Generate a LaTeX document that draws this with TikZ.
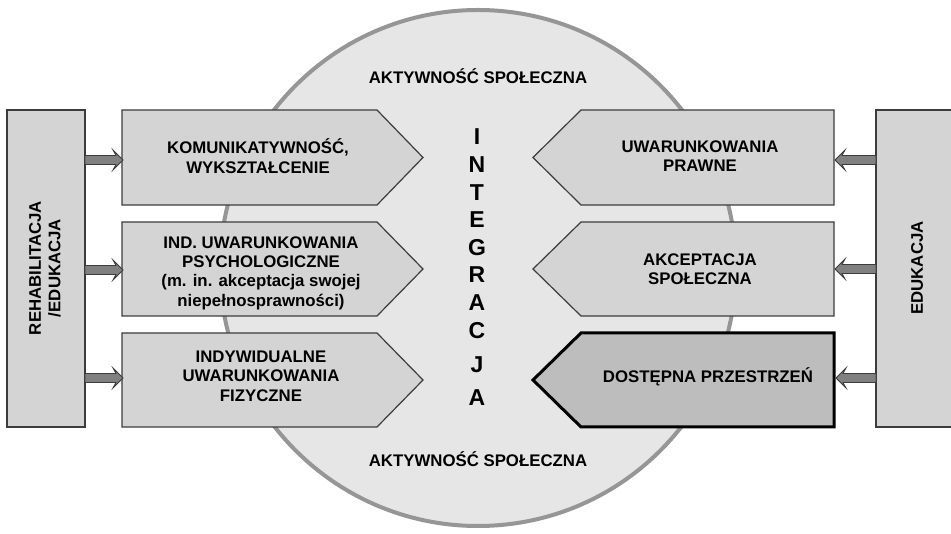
\documentclass[tikz,border=0pt]{standalone}
\usepackage{fontspec}
\setmainfont{Liberation Sans}
\usetikzlibrary{calc}
\definecolor{boxfill}{HTML}{D4D4D4}
\definecolor{boxline}{HTML}{3C3C3C}
\definecolor{circfill}{HTML}{E6E6E6}
\definecolor{circline}{HTML}{969696}
\definecolor{darkfill}{HTML}{BDBDBD}
\definecolor{arrfill}{HTML}{808080}
\newcommand{\BlkArrow}[3]{%
  \draw[blkarrow] ($(#1)+(0,4.5)$) -- ($(#2)+(#3*7,4.5)$) -- ($(#2)+(#3*10,10)$) -- (#2)
    -- ($(#2)+(#3*10,-10)$) -- ($(#2)+(#3*7,-4.5)$) -- ($(#1)+(0,-4.5)$) -- cycle;}
\begin{document}
\begin{tikzpicture}[x=1pt,y=-1pt,
  boxstyle/.style={draw=boxline,fill=boxfill,line width=1.2pt,line join=miter},
  darkbox/.style={draw=black,fill=darkfill,line width=3pt,line join=miter},
  blkarrow/.style={draw=boxline,fill=arrfill,line width=0.8pt,line join=miter},
  lbl/.style={align=center,inner sep=0pt,font=\fontsize{16.8}{19.4}\selectfont\bfseries},
  letter/.style={inner sep=0pt,font=\fontsize{23}{23}\selectfont\bfseries}]
\useasboundingbox (0,0) rectangle (951,534);
\fill[white] (0,0) rectangle (951,534);
% circle
\draw[draw=circline,fill=circfill,line width=4pt] (478,268) circle (258);
\node[lbl] (act1) at (478,76) {AKTYWNOŚĆ SPOŁECZNA};
\node[lbl] (act2) at (478,459) {AKTYWNOŚĆ SPOŁECZNA};
% side boxes
\draw[boxstyle] (7,110) rectangle (85,427);
\draw[boxstyle] (876,110) rectangle (960,427);
\node[lbl,rotate=90] (rehab) at (45,268) {REHABILITACJA\\/EDUKACJA};
\node[lbl,rotate=90] (edu) at (917,268) {EDUKACJA};
% left pentagons
\draw[boxstyle] (122,110) -- (377,110) -- (423,157.5) -- (377,205) -- (122,205) -- cycle;
\draw[boxstyle] (122,222) -- (377,222) -- (423,269) -- (377,316) -- (122,316) -- cycle;
\draw[boxstyle] (122,333) -- (377,333) -- (423,380) -- (377,427) -- (122,427) -- cycle;
% right pentagons
\draw[boxstyle] (834,110) -- (581,110) -- (533,157.5) -- (581,205) -- (834,205) -- cycle;
\draw[boxstyle] (834,222) -- (581,222) -- (533,269) -- (581,316) -- (834,316) -- cycle;
\draw[darkbox] (834,333) -- (581,333) -- (533,380) -- (581,427) -- (834,427) -- cycle;
% labels
\node[lbl] (l1) at (258,156) {KOMUNIKATYWNOŚĆ,\\WYKSZTAŁCENIE};
\node[lbl] (l2) at (261,273) {IND. UWARUNKOWANIA\\PSYCHOLOGICZNE\\(m. in. akceptacja swojej\\niepełnosprawności)};
\node[lbl] (l3) at (261,376) {INDYWIDUALNE\\UWARUNKOWANIA\\FIZYCZNE};
\node[lbl] (r1) at (700,156) {UWARUNKOWANIA\\PRAWNE};
\node[lbl] (r2) at (700,269) {AKCEPTACJA\\SPOŁECZNA};
\node[lbl] (r3) at (708,377) {DOSTĘPNA PRZESTRZEŃ};
% INTEGRACJA
\node[letter] (i1) at (477,137) {I};
\node[letter] (i2) at (477,165) {N};
\node[letter] (i3) at (477,193) {T};
\node[letter] (i4) at (477,220) {E};
\node[letter] (i5) at (477,248) {G};
\node[letter] (i6) at (477,275) {R};
\node[letter] (i7) at (477,303) {A};
\node[letter] (i8) at (477,331) {C};
\node[letter] (i9) at (477,365) {J};
\node[letter] (i10) at (477,398) {A};
% arrow endpoints
\coordinate (la1) at (85,160);  \coordinate (lb1) at (123,160);
\coordinate (la2) at (85,270);  \coordinate (lb2) at (123,270);
\coordinate (la3) at (85,378);  \coordinate (lb3) at (123,378);
\coordinate (ra1) at (876,160); \coordinate (rb1) at (835,160);
\coordinate (ra2) at (876,269); \coordinate (rb2) at (835,269);
\coordinate (ra3) at (876,378); \coordinate (rb3) at (836,378);
\BlkArrow{la1}{lb1}{-1}
\BlkArrow{la2}{lb2}{-1}
\BlkArrow{la3}{lb3}{-1}
\BlkArrow{ra1}{rb1}{1}
\BlkArrow{ra2}{rb2}{1}
\BlkArrow{ra3}{rb3}{1}
\end{tikzpicture}
\end{document}
